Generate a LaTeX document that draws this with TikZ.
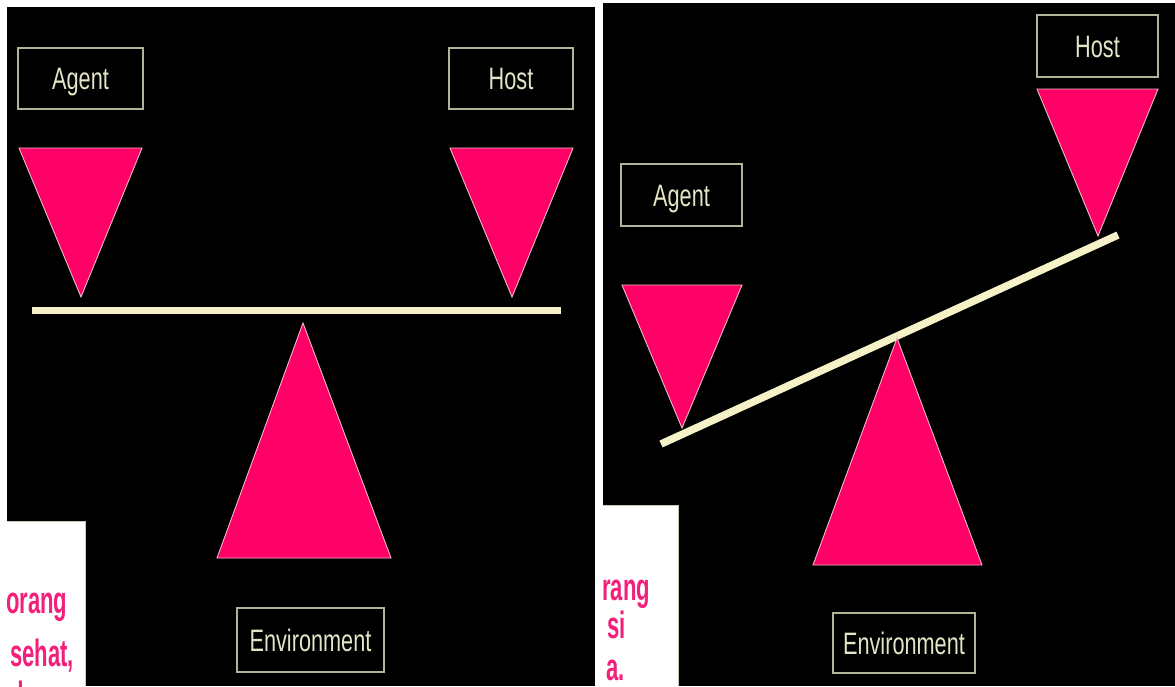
\documentclass[tikz,border=0pt]{standalone}
\usepackage{fontspec}
\newfontfamily\labelfont{Liberation Sans}[FakeStretch=0.70]
\newfontfamily\notefont{Liberation Sans}[FakeStretch=0.58]
\definecolor{panelpink}{HTML}{FF0066}
\definecolor{edgepink}{HTML}{F2B8C8}
\definecolor{beamcream}{HTML}{F4F2C6}
\definecolor{framegray}{HTML}{B4B29A}
\definecolor{labelcream}{HTML}{E4E4C6}
\definecolor{notepink}{HTML}{F2207A}
\begin{document}
\begin{tikzpicture}[x=1pt,y=-1pt,
  labelbox/.style={draw=framegray, line width=1.6pt, fill=black,
    text=labelcream, font=\labelfont\fontsize{31}{31}\selectfont,
    text height=22pt, text depth=0pt, inner sep=0pt},
  wedge/.style={fill=panelpink, draw=edgepink, line width=0.9pt, line join=miter},
  beam/.style={draw=beamcream, line width=7pt},
  notetext/.style={text=notepink, font=\notefont\bfseries\fontsize{38}{38}\selectfont,
    inner sep=0pt, anchor=base west},
]
\useasboundingbox (0,0) rectangle (1175,686);
\fill[white] (0,0) rectangle (1175,686);

% ---------- balanced seesaw ----------
\fill[black] (7,7) rectangle (595,686);
\node[labelbox, minimum width=125pt, minimum height=61pt] (agentA) at (80.5,78.5) {Agent};
\node[labelbox, minimum width=124pt, minimum height=61pt] (hostA) at (511,78.5) {Host};
\draw[wedge] (19,148) -- (142,148) -- (81,297) -- cycle;
\draw[wedge] (450,148) -- (573,148) -- (512,297) -- cycle;
\coordinate (beamAl) at (32,310.5);
\coordinate (beamAr) at (561,310.5);
\draw[beam] (beamAl) -- (beamAr);
\draw[wedge] (303,323) -- (391,558) -- (217,558) -- cycle;
\node[labelbox, minimum width=147pt, minimum height=64pt] (envA) at (310.5,640) {Environment};

% note card, partly hidden
\fill[white] (7,521) rectangle (85,686);
\draw[framegray!70, line width=0.8pt] (7,521) -- (85,521) -- (85,686);
\begin{scope}
  \clip (7,521) rectangle (85,686);
  \node[notetext] (noteA1) at (6,613) {orang};
  \node[notetext] (noteA2) at (10,666) {sehat,};
  \node[notetext] (noteA3) at (10,708) {dan};
\end{scope}

% ---------- tilted seesaw ----------
\fill[black] (603,3) rectangle (1175,686);
\node[labelbox, minimum width=121pt, minimum height=62pt] (hostB) at (1097.5,46) {Host};
\node[labelbox, minimum width=121pt, minimum height=62pt] (agentB) at (681.5,195) {Agent};
\draw[wedge] (1037,89) -- (1158,89) -- (1098,236) -- cycle;
\draw[wedge] (622,285) -- (742,285) -- (682,428) -- cycle;
\coordinate (beamBl) at (661,444);
\coordinate (beamBr) at (1118,235);
\draw[beam, line width=7.5pt] (beamBl) -- (beamBr);
\draw[wedge] (897,338) -- (982,565) -- (813,565) -- cycle;
\node[labelbox, minimum width=142pt, minimum height=60pt] (envB) at (904,643) {Environment};

% note card, partly hidden
\fill[white] (603,505) rectangle (678,686);
\draw[framegray!70, line width=0.8pt] (603,505) -- (678,505) -- (678,686);
\begin{scope}
  \clip (603,505) rectangle (678,686);
  \node[notetext] (noteB1) at (602,600) {rang};
  \node[notetext] (noteB2) at (607,638) {si};
  \node[notetext] (noteB3) at (606,680) {a.};
\end{scope}
\end{tikzpicture}
\end{document}
